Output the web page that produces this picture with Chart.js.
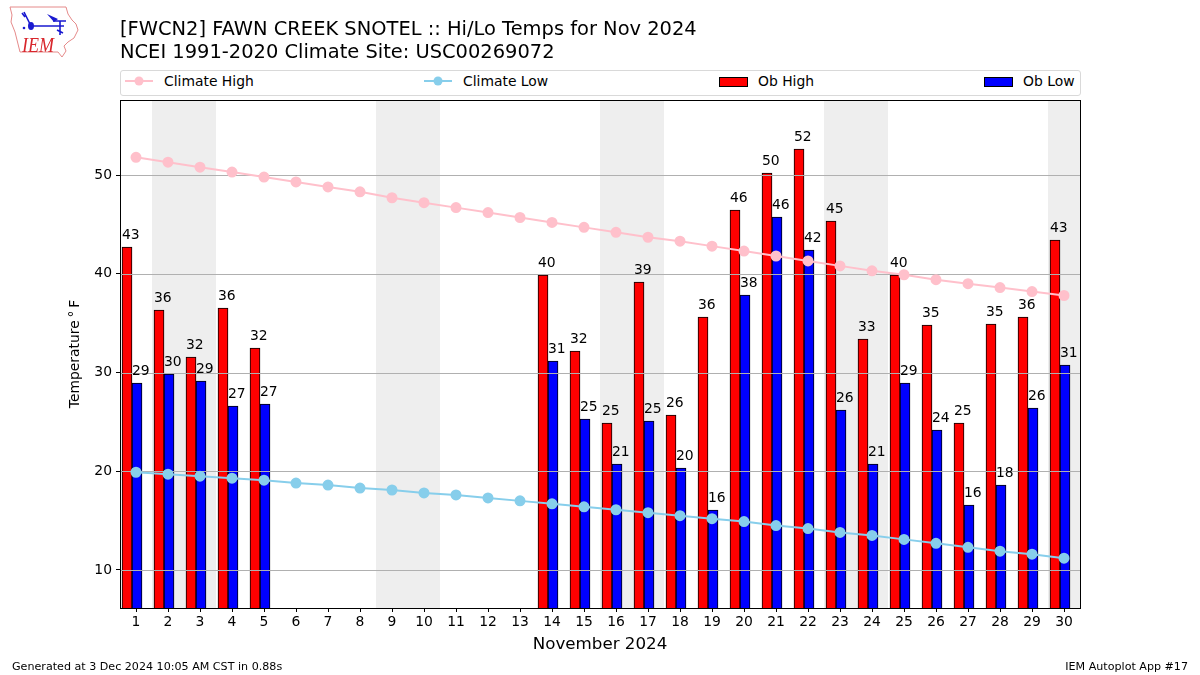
<!DOCTYPE html>
<html>
<head>
<meta charset="utf-8">
<style>
    body { margin: 0; background: #fff; font-family: "DejaVu Sans", sans-serif; color: #000; }
    #wrap { position: relative; width: 1200px; height: 675px; overflow: hidden; }
    canvas { position: absolute; left: 0; top: 0; }
    .title { position: absolute; left: 120px; font-size: 19.44px; line-height: 22px; white-space: nowrap; }
    .foot { position: absolute; top: 660px; font-size: 11.12px; line-height: 13px; white-space: nowrap; }
    #legend { position: absolute; left: 120px; top: 70px; width: 959px; height: 24px; border: 1px solid #d9d9d9; border-radius: 3px; background: #fff; }
    .lg-text { position: absolute; top: 2px; font-size: 13.9px; line-height: 17px; white-space: nowrap; }
    .lg-icon { position: absolute; top: 0; }
    #logo { position: absolute; left: 0; top: 0; }
</style>
</head>
<body>
<div id="wrap">
    <canvas id="myChart" width="1200" height="675"></canvas>
    <svg id="logo" width="90" height="62">
        <path d="M10 7 L66 7 L68 14 L72 20 L76 24 L78 30 L74 38 L68 42 L64 46 L66 51 L62 57 L58 52 L20 52 L18 44 L15 32 L11 22 L12 15 Z" fill="#fff" stroke="#e58a8a" stroke-width="1"/>
        <path d="M31 26 L64 26 M31 26 L24 12 M22 13 L25 17 M60 21 L60 35 M57 30 L63 33 M53 21 L66 21" fill="none" stroke="#1a1ad0" stroke-width="1.6"/>
        <ellipse cx="31" cy="26" rx="3" ry="4" fill="#1a1ad0"/>
        <path d="M47 14 L58 19 L54 22 Z" fill="#1a1ad0"/>
        <circle cx="24" cy="28" r="1.3" fill="#1a1ad0"/>
        <text x="22" y="52" font-family="Liberation Serif" font-style="italic" font-size="21" textLength="32" lengthAdjust="spacingAndGlyphs" fill="#d8262c">IEM</text>
    </svg>
    <div class="title" style="top: 18px;">[FWCN2] FAWN CREEK SNOTEL :: Hi/Lo Temps for Nov 2024</div>
    <div class="title" style="top: 41px;">NCEI 1991-2020 Climate Site: USC00269072</div>
    <div id="legend"></div>
    <div class="foot" style="left: 12px;">Generated at 3 Dec 2024 10:05 AM CST in 0.88s</div>
    <div class="foot" style="right: 12px;">IEM Autoplot App #17</div>
</div>
<script src="https://cdn.jsdelivr.net/npm/chart.js@4"></script>
<script>
const days = ["1", "2", "3", "4", "5", "6", "7", "8", "9", "10", "11", "12", "13", "14", "15",
    "16", "17", "18", "19", "20", "21", "22", "23", "24", "25", "26", "27", "28", "29", "30"];
const obHigh = [42.7, 36.3, 31.6, 36.5, 32.5, null, null, null, null, null, null, null, null, 39.9, 32.2,
    24.9, 39.2, 25.7, 35.6, 46.5, 50.2, 52.6, 45.3, 33.4, 39.9, 34.8, 24.9, 34.9, 35.6, 43.4];
const obLow = [28.9, 29.8, 29.1, 26.6, 26.8, null, null, null, null, null, null, null, null, 31.2, 25.3,
    20.7, 25.1, 20.3, 16.1, 37.8, 45.7, 42.4, 26.2, 20.7, 28.9, 24.2, 16.6, 18.6, 26.4, 30.8];
const obHighLabels = [43, 36, 32, 36, 32, null, null, null, null, null, null, null, null, 40, 32,
    25, 39, 26, 36, 46, 50, 52, 45, 33, 40, 35, 25, 35, 36, 43];
const obLowLabels = [29, 30, 29, 27, 27, null, null, null, null, null, null, null, null, 31, 25,
    21, 25, 20, 16, 38, 46, 42, 26, 21, 29, 24, 16, 18, 26, 31];
const climateHigh = [51.8, 51.3, 50.8, 50.3, 49.8, 49.3, 48.8, 48.3, 47.7, 47.2, 46.7, 46.2, 45.7, 45.2, 44.7,
    44.2, 43.7, 43.3, 42.8, 42.3, 41.8, 41.3, 40.8, 40.3, 39.9, 39.4, 39.0, 38.6, 38.2, 37.8];
const climateLow = [19.9, 19.7, 19.5, 19.3, 19.1, 18.8, 18.6, 18.3, 18.1, 17.8, 17.6, 17.3, 17.0, 16.7, 16.4,
    16.1, 15.8, 15.5, 15.2, 14.9, 14.5, 14.2, 13.8, 13.5, 13.1, 12.7, 12.3, 11.9, 11.6, 11.2];
const weekendSpans = [[1, 2], [8, 9], [15, 16], [22, 23], [29, 29]];
const yTicks = [10, 20, 30, 40, 50];

// the bar pair sits a little left of the tick, and edges stay on whole pixels
const barNudgePlugin = {
    id: "barNudge",
    afterDatasetsUpdate: function (chart) {
        [2, 3].forEach(function (index) {
            chart.getDatasetMeta(index).data.forEach(function (bar) {
                bar.x -= 4;
                bar.y = Math.round(bar.y);
            });
        });
    }
};

// weekend shading, behind everything
const shadePlugin = {
    id: "shade",
    beforeDraw: function (chart) {
        const c = chart.ctx, x = chart.scales.x, area = chart.chartArea;
        c.save();
        c.fillStyle = "#eeeeee";
        weekendSpans.forEach(function (s) {
            const x0 = x.getPixelForValue(s[0] - 0.5);
            const x1 = Math.min(x.getPixelForValue(s[1] + 0.5), area.right);
            c.fillRect(x0, area.top, x1 - x0, area.bottom - area.top);
        });
        c.restore();
    }
};

// gridlines go over the bars but under the climate lines
const gridPlugin = {
    id: "midGrid",
    beforeDatasetDraw: function (chart, args) {
        if (args.index !== 1) return;
        const c = chart.ctx, y = chart.scales.y, area = chart.chartArea;
        c.save();
        c.strokeStyle = "#b0b0b0";
        c.lineWidth = 1;
        yTicks.forEach(function (v) {
            const py = Math.round(y.getPixelForValue(v)) + 0.5;
            c.beginPath();
            c.moveTo(area.left, py);
            c.lineTo(area.right, py);
            c.stroke();
        });
        c.restore();
    }
};

// value labels above the bars, and the black frame
const labelPlugin = {
    id: "barLabels",
    afterDatasetsDraw: function (chart) {
        const c = chart.ctx, area = chart.chartArea;
        c.save();
        c.fillStyle = "#000";
        c.font = "13.9px 'DejaVu Sans'";
        c.textAlign = "left";
        c.textBaseline = "alphabetic";
        [[2, obHighLabels], [3, obLowLabels]].forEach(function (pair) {
            chart.getDatasetMeta(pair[0]).data.forEach(function (bar, i) {
                if (pair[1][i] === null) return;
                c.fillText(pair[1][i], bar.x - bar.width / 2, bar.y - 8);
            });
        });
        c.strokeStyle = "#000";
        c.lineWidth = 1;
        c.strokeRect(area.left + 0.5, area.top + 0.5, area.right - area.left, area.bottom - area.top);
        c.restore();
    }
};

const ctx = document.getElementById("myChart").getContext("2d");
const myChart = new Chart(ctx, {
    type: "bar",
    data: {
        labels: days,
        datasets: [
            {
                type: "line",
                label: "Climate High",
                data: climateHigh,
                borderColor: "#ffc0cb",
                backgroundColor: "#ffc0cb",
                borderWidth: 2,
                pointRadius: 4.5,
                tension: 0,
                order: 0,
            },
            {
                type: "line",
                label: "Climate Low",
                data: climateLow,
                borderColor: "#87ceeb",
                backgroundColor: "#87ceeb",
                borderWidth: 2,
                pointRadius: 4.5,
                tension: 0,
                order: 0,
            },
            {
                label: "Ob High",
                data: obHigh,
                backgroundColor: "#ff0000",
                borderColor: "#000",
                borderWidth: 1,
                barThickness: 10,
                order: 1,
            },
            {
                label: "Ob Low",
                data: obLow,
                backgroundColor: "#0000ff",
                borderColor: "#000",
                borderWidth: 1,
                barThickness: 10,
                order: 1,
            },
        ],
    },
    options: {
        responsive: false,
        animation: false,
        layout: { padding: { top: 100, right: 120, left: 0, bottom: 0 } },
        plugins: { legend: { display: false }, tooltip: { enabled: false } },
        scales: {
            x: {
                afterFit: function (s) { s.height = 67; },
                grid: { offset: false, drawOnChartArea: false, drawTicks: true, tickLength: 4, tickColor: "#000" },
                border: { color: "#000" },
                ticks: {
                    autoSkip: false,
                    maxRotation: 0,
                    padding: 2,
                    color: "#000",
                    font: { family: "DejaVu Sans", size: 13.9 },
                },
                title: {
                    display: true,
                    text: "November 2024",
                    color: "#000",
                    font: { family: "DejaVu Sans", size: 16.7 },
                    padding: { top: 0, bottom: 20 },
                },
            },
            y: {
                min: 6.15,
                max: 57.6,
                afterFit: function (s) { s.width = 120; },
                afterBuildTicks: function (s) {
                    s.ticks = yTicks.map(function (v) { return { value: v }; });
                },
                grid: { drawOnChartArea: false, tickLength: 4, tickColor: "#000" },
                border: { color: "#000" },
                ticks: {
                    padding: 4,
                    color: "#000",
                    font: { family: "DejaVu Sans", size: 13.9 },
                },
                title: {
                    display: true,
                    text: "Temperature\u2009°\u2009F",
                    color: "#000",
                    font: { family: "DejaVu Sans", size: 13.9 },
                    padding: { top: 67, bottom: 0 },
                },
            },
        },
    },
    plugins: [barNudgePlugin, shadePlugin, gridPlugin, labelPlugin],
});

// legend row, built from the datasets
const legendBox = document.getElementById("legend");
const legendSpots = [[4, 43], [303, 342], [598, 637], [863, 902]];
myChart.data.datasets.forEach(function (ds, i) {
    const left = legendSpots[i][0];
    const icon = ds.type === "line"
        ? '<svg class="lg-icon" style="left:' + left + 'px" width="30" height="22"><line x1="0" y1="10" x2="28" y2="10" stroke="' + ds.borderColor + '" stroke-width="2"/><circle cx="14" cy="10" r="4.5" fill="' + ds.borderColor + '"/></svg>'
        : '<svg class="lg-icon" style="left:' + left + 'px" width="30" height="22"><rect x="0.5" y="6.5" width="28" height="9" fill="' + ds.backgroundColor + '" stroke="#000"/></svg>';
    legendBox.insertAdjacentHTML("beforeend", icon + '<span class="lg-text" style="left:' + legendSpots[i][1] + 'px">' + ds.label + "</span>");
});
</script>
</body>
</html>
